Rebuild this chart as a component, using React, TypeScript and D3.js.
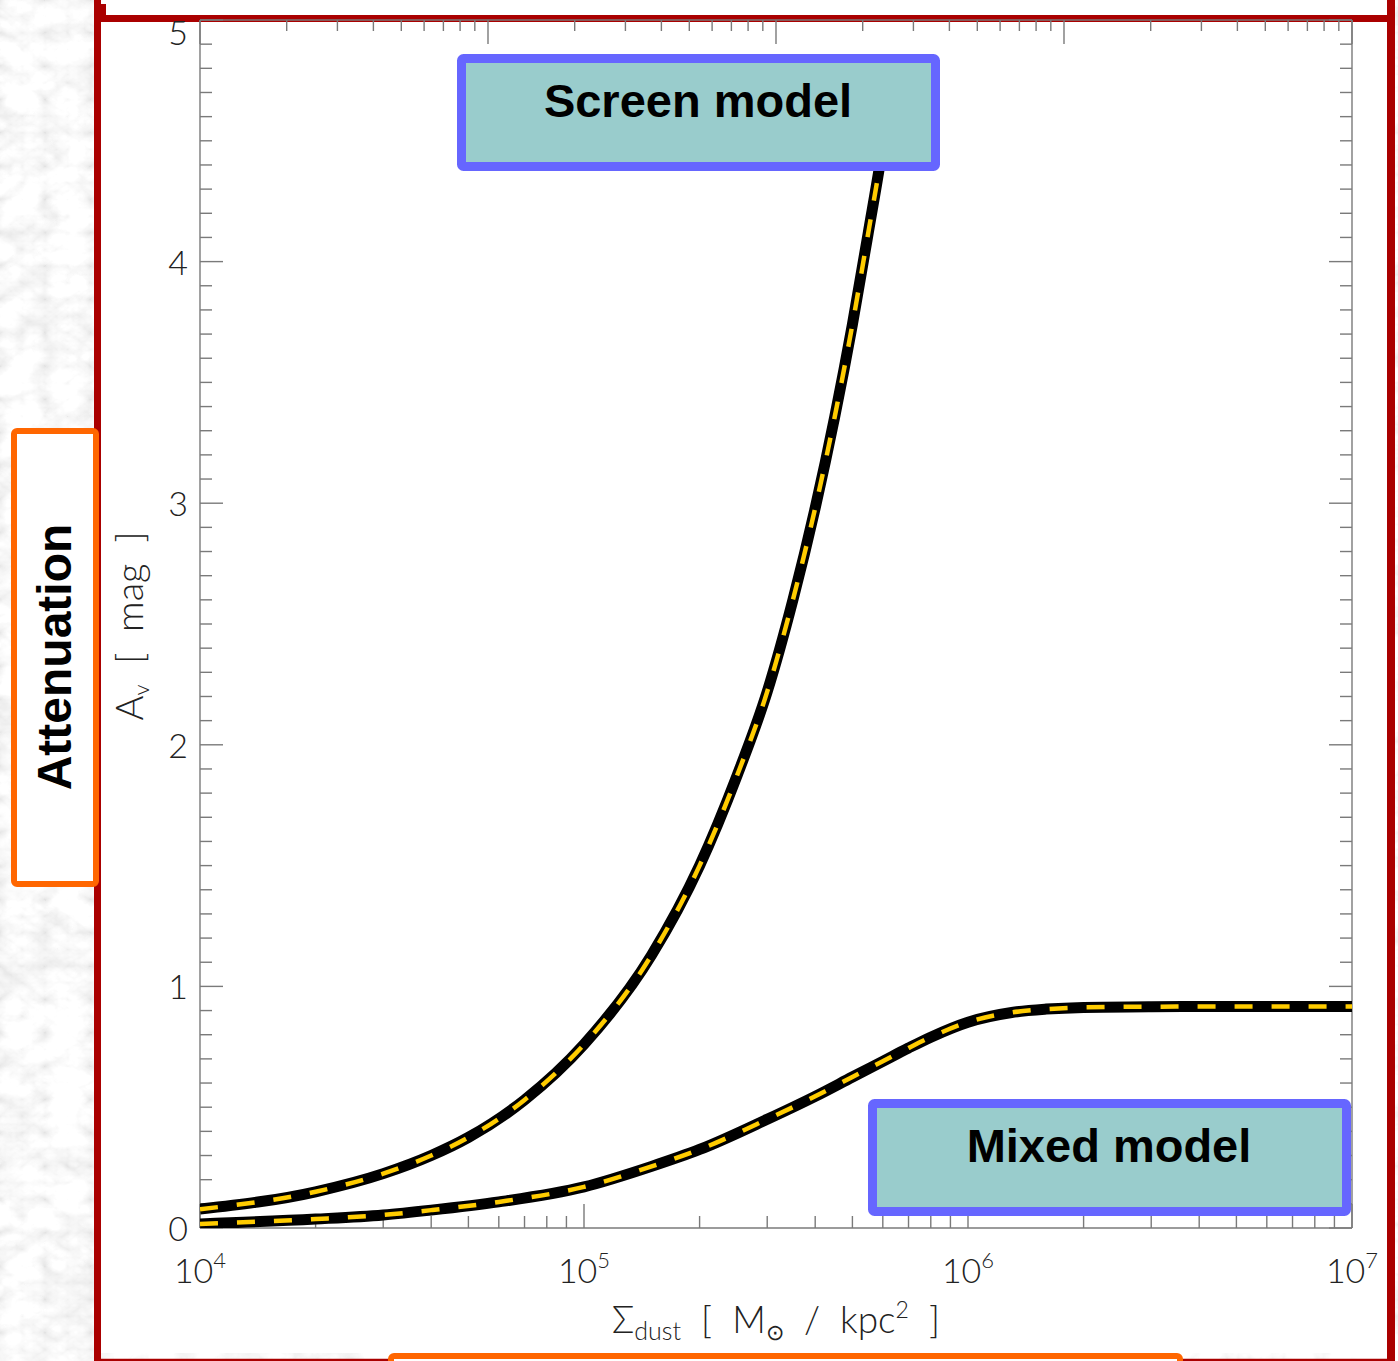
import React, { useEffect, useRef } from 'react';
import * as d3 from 'd3';

// surface density of dust [Msun / kpc^2] and V-band attenuation [mag]
const sigmaScreen = [1e4, 2e4, 3e4, 4e4, 5e4, 7e4, 1e5, 1.5e5, 2e5, 2.5e5, 3e5, 3.5e5, 4e5, 4.5e5, 5e5, 5.5e5, 6e5, 6.3e5];
const avScreen = [0.078, 0.15, 0.225, 0.3, 0.375, 0.53, 0.76, 1.13, 1.5, 1.87, 2.22, 2.6, 2.98, 3.36, 3.74, 4.12, 4.48, 4.72];

const sigmaMixed = [1e4, 2e4, 3e4, 4e4, 6e4, 1e5, 1.5e5, 2e5, 3e5, 4e5, 5e5, 6e5, 7e5, 8e5, 1e6, 1.3e6, 1.6e6, 2e6, 3e6, 5e6, 1e7];
const avMixed = [0.017, 0.037, 0.054, 0.074, 0.108, 0.17, 0.255, 0.325, 0.45, 0.545, 0.625, 0.69, 0.745, 0.79, 0.852, 0.892, 0.906, 0.913, 0.916, 0.917, 0.917];

const xDomain = [1e4, 1e7];
const xTickLabels = ['4', '5', '6', '7'];
const topDomain = [1, 1e4]; // second (unlabelled) log axis on top
const yDomain = [0, 5];
const yTickLabels = ['0', '1', '2', '3', '4', '5'];

const boxes = [
  { label: 'Screen model', x0: 457, y0: 54 },
  { label: 'Mixed model', x0: 868, y0: 1099 },
];

const W = 1398;
const H = 1361;

const App: React.FC = () => {
  const svgRef = useRef<SVGSVGElement>(null);

  useEffect(() => {
    if (!svgRef.current) return;
    const svg = d3.select(svgRef.current);
    svg.selectAll('*').remove();

    const left = 200, right = 1352, top = 20, bottom = 1228;
    const axisColor = '#7a7a7a';
    const labelFont = 'Lato, "Open Sans", "DejaVu Sans", sans-serif';

    const x = d3.scaleLog().domain(xDomain).range([left, right]);
    const xTop = d3.scaleLog().domain(topDomain).range([left, right]);
    const y = d3.scaleLinear().domain(yDomain).range([bottom, top]);

    const defs = svg.append('defs');

    // marble-ish slide background
    const f = defs.append('filter').attr('id', 'marble')
      .attr('x', 0).attr('y', 0).attr('width', '100%').attr('height', '100%');
    f.append('feTurbulence').attr('type', 'turbulence')
      .attr('baseFrequency', '0.022 0.03').attr('numOctaves', 4).attr('seed', 11).attr('result', 't');
    f.append('feColorMatrix').attr('in', 't').attr('type', 'matrix')
      .attr('values', '0.33 0.33 0.33 0 0 0.33 0.33 0.33 0 0 0.33 0.33 0.33 0 0 0 0 0 0 1')
      .attr('result', 'g');
    const ct = f.append('feComponentTransfer').attr('in', 'g');
    ['feFuncR', 'feFuncG', 'feFuncB'].forEach(fn =>
      ct.append(fn).attr('type', 'linear').attr('slope', 0.6).attr('intercept', 0.77));

    defs.append('clipPath').attr('id', 'plotClip')
      .append('rect').attr('x', left).attr('y', top).attr('width', right - left).attr('height', bottom - top);

    svg.append('rect').attr('width', W).attr('height', H).attr('fill', '#ddd').attr('filter', 'url(#marble)');

    // white slide panel + red frame
    svg.append('rect').attr('x', 100).attr('y', 0).attr('width', 1290).attr('height', 1353).attr('fill', '#fff');
    const red = '#aa0000';
    svg.append('line').attr('x1', 97.5).attr('x2', 97.5).attr('y1', 0).attr('y2', H)
      .attr('stroke', red).attr('stroke-width', 7);
    svg.append('line').attr('x1', 1391).attr('x2', 1391).attr('y1', 0).attr('y2', H)
      .attr('stroke', red).attr('stroke-width', 8);
    svg.append('line').attr('x1', 97).attr('x2', 1394).attr('y1', 18.5).attr('y2', 18.5)
      .attr('stroke', red).attr('stroke-width', 7);
    svg.append('rect').attr('x', 100).attr('y', 4).attr('width', 6).attr('height', 15).attr('fill', red);
    svg.append('line').attr('x1', 97).attr('x2', 1394).attr('y1', 1360).attr('y2', 1360)
      .attr('stroke', red).attr('stroke-width', 2.5);

    // axes frame
    const ax = svg.append('g').attr('stroke', axisColor).attr('stroke-width', 1.4);
    ax.append('line').attr('x1', left).attr('x2', right).attr('y1', bottom).attr('y2', bottom);
    ax.append('line').attr('x1', left).attr('x2', right).attr('y1', top).attr('y2', top);
    ax.append('line').attr('x1', left).attr('x2', left).attr('y1', top).attr('y2', bottom);
    ax.append('line').attr('x1', right).attr('x2', right).attr('y1', top).attr('y2', bottom);

    const isDecade = (v: number) => Math.abs(Math.log10(v) - Math.round(Math.log10(v))) < 1e-9;

    x.ticks().forEach(v => {
      const len = isDecade(v) ? 24 : 12;
      ax.append('line').attr('x1', x(v)).attr('x2', x(v)).attr('y1', bottom).attr('y2', bottom - len);
    });
    xTop.ticks().forEach(v => {
      const len = isDecade(v) ? 24 : 11;
      ax.append('line').attr('x1', xTop(v)).attr('x2', xTop(v)).attr('y1', top).attr('y2', top + len);
    });
    y.ticks(50).forEach(v => {
      const major = Math.abs(v - Math.round(v)) < 1e-9;
      const len = major ? 23 : 12;
      ax.append('line').attr('x1', left).attr('x2', left + len).attr('y1', y(v)).attr('y2', y(v));
      ax.append('line').attr('x1', right).attr('x2', right - len).attr('y1', y(v)).attr('y2', y(v));
    });

    // tick labels
    const decades = d3.range(Math.log10(xDomain[0]), Math.log10(xDomain[1]) + 1);
    decades.forEach((d, i) => {
      const t = svg.append('text')
        .attr('x', x(Math.pow(10, d))).attr('y', 1283)
        .attr('text-anchor', 'middle')
        .style('font-family', labelFont).style('font-weight', 300)
        .style('font-size', '34px').style('fill', '#222');
      t.append('tspan').text('10');
      t.append('tspan').attr('dy', -15).style('font-size', '22px').text(xTickLabels[i]);
    });
    yTickLabels.forEach((lab, i) => {
      svg.append('text')
        .attr('x', 188).attr('y', Math.max(y(i) + 13, 45))
        .attr('text-anchor', 'end')
        .style('font-family', labelFont).style('font-weight', 300)
        .style('font-size', '34px').style('fill', '#222')
        .text(lab);
    });

    // axis titles
    const xt = svg.append('text')
      .attr('x', 776).attr('y', 1333)
      .attr('text-anchor', 'middle')
      .style('font-family', labelFont).style('font-weight', 300)
      .style('font-size', '37px').style('fill', '#222')
      .attr('xml:space', 'preserve');
    xt.append('tspan').text('Σ');
    xt.append('tspan').attr('dy', 7).style('font-size', '25px').text('dust');
    xt.append('tspan').attr('dy', -7).text('  [  M');
    xt.append('tspan').attr('dy', 7).style('font-size', '22px').text('⊙');
    xt.append('tspan').attr('dy', -7).text('  /  kpc');
    xt.append('tspan').attr('dy', -15).style('font-size', '23px').text('2');
    xt.append('tspan').attr('dy', 15).text('  ]');

    const yt = svg.append('text')
      .attr('transform', `translate(143, 626) rotate(-90)`)
      .attr('text-anchor', 'middle')
      .style('font-family', labelFont).style('font-weight', 300)
      .style('font-size', '38px').style('fill', '#222')
      .attr('xml:space', 'preserve');
    yt.append('tspan').text('A');
    yt.append('tspan').attr('dy', 6).style('font-size', '22px').text('v');
    yt.append('tspan').attr('dy', -6).text('  [  mag  ]');

    // curves
    const line = d3.line<[number, number]>()
      .x(d => x(d[0]))
      .y(d => y(d[1]))
      .curve(d3.curveMonotoneX);

    const curves = svg.append('g').attr('clip-path', 'url(#plotClip)');
    [
      d3.zip(sigmaScreen, avScreen) as [number, number][],
      d3.zip(sigmaMixed, avMixed) as [number, number][],
    ].forEach(pts => {
      curves.append('path').attr('d', line(pts)).attr('fill', 'none')
        .attr('stroke', '#000').attr('stroke-width', 11).attr('stroke-linejoin', 'round');
      curves.append('path').attr('d', line(pts)).attr('fill', 'none')
        .attr('stroke', '#ffcc00').attr('stroke-width', 4.5).attr('stroke-dasharray', '18 19');
    });

    // annotation boxes
    boxes.forEach(b => {
      svg.append('rect')
        .attr('x', b.x0 + 4.5).attr('y', b.y0 + 4.5).attr('width', 474).attr('height', 108)
        .attr('rx', 2).attr('fill', '#99cccc').attr('stroke', '#6666ff').attr('stroke-width', 9);
      svg.append('text')
        .attr('x', b.x0 + 241).attr('y', b.y0 + 63)
        .attr('text-anchor', 'middle')
        .style('font-family', '"Liberation Sans", Arial, sans-serif')
        .style('font-weight', 700).style('font-size', '47px').style('fill', '#000')
        .text(b.label);
    });

    // orange side boxes of the slide
    svg.append('rect').attr('x', 14).attr('y', 431).attr('width', 82).attr('height', 453)
      .attr('rx', 3).attr('fill', '#fff').attr('stroke', '#ff6600').attr('stroke-width', 6);
    svg.append('text')
      .attr('transform', 'translate(71, 657) rotate(-90)')
      .attr('text-anchor', 'middle')
      .style('font-family', '"Liberation Sans", Arial, sans-serif')
      .style('font-weight', 700).style('font-size', '48px').style('fill', '#000')
      .text('Attenuation');
    svg.append('rect').attr('x', 391).attr('y', 1356).attr('width', 789).attr('height', 40)
      .attr('rx', 3).attr('fill', '#fff').attr('stroke', '#ff6600').attr('stroke-width', 6);
  }, []);

  return (
    <svg ref={svgRef} width={W} height={H} style={{ position: 'absolute', left: 0, top: 0 }} />
  );
};

export default App;
